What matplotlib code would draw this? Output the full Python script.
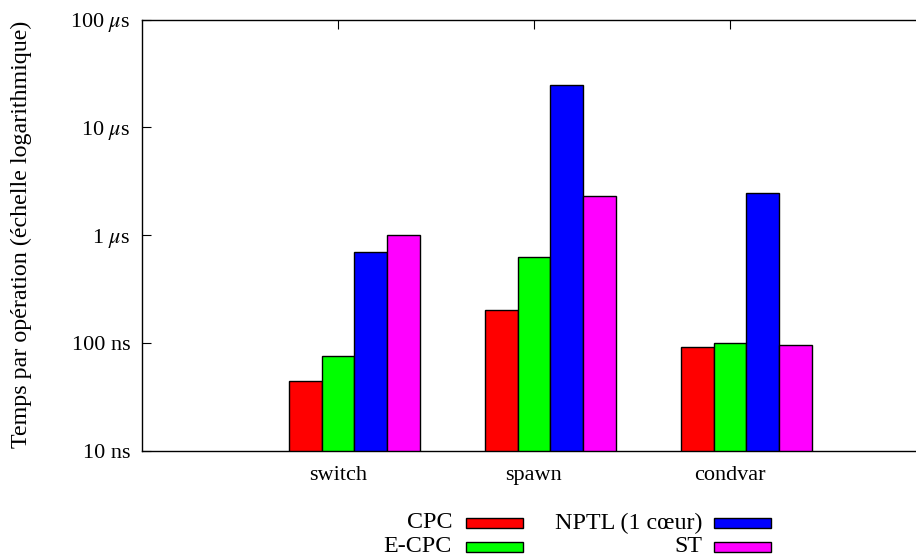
import matplotlib
matplotlib.use("Agg")
from matplotlib import pyplot as plt
from matplotlib.patches import Rectangle
import numpy as np

# donnees (secondes par operation)
categories = ["switch", "spawn", "condvar"]
series = ["CPC", "E-CPC", "NPTL (1 cœur)", "ST"]
colors = ["#ff0000", "#00ff00", "#0000ff", "#ff00ff"]
cpc = [44e-9, 200e-9, 92e-9]
ecpc = [76e-9, 620e-9, 100e-9]
nptl = [690e-9, 24.5e-6, 2.43e-6]
st = [1.0e-6, 2.28e-6, 95e-9]
values = [cpc, ecpc, nptl, st]

ytick_vals = [1e-8, 1e-7, 1e-6, 1e-5, 1e-4]
ytick_labels = ["10 ns", "100 ns", r"1 $\mu$s", r"10 $\mu$s", r"100 $\mu$s"]

plt.rcParams["font.family"] = ["Liberation Serif", "DejaVu Serif"]
plt.rcParams["mathtext.fontset"] = "stix"

fig = plt.figure(figsize=(9.16, 5.59), dpi=100)
W, H = 916.0, 559.0
# l'axe depasse a droite comme dans l'original (xrange -1:4)
ax = fig.add_axes([142 / W, (H - 450.5) / H, 980 / W, 431 / H])

x = np.arange(len(categories))
w = 1.0 / 6
for i, (name, vals, c) in enumerate(zip(series, values, colors)):
    ax.bar(x + (i - 1) * w, vals, width=w, color=c,
           edgecolor="black", linewidth=1.0, zorder=2)

ax.set_yscale("log")
ax.set_ylim(1e-8, 1e-4)
ax.set_xlim(-1, 4)
ax.set_yticks(ytick_vals)
ax.set_yticklabels(ytick_labels)
ax.minorticks_off()
ax.set_xticks(x)
ax.set_xticklabels(categories)
ax.tick_params(direction="in", top=True, right=True, length=6.5, width=0.8,
               labelsize=16)
ax.tick_params(axis="y", pad=8.5)
ax.tick_params(axis="x", pad=11)
for s in ax.spines.values():
    s.set_linewidth(1.0)

fig.text(21 / W, 1 - 234 / H, "Temps par opération (échelle logarithmique)",
         rotation=90, ha="center", va="center", fontsize=17.3)

# legende a la gnuplot : texte a droite, echantillon de couleur
col_text_x = [452, 702]
col_box_x = [466, 714]
row_y = [523, 547]
box_w, box_h = 57, 10
for i, (name, c) in enumerate(zip(series, colors)):
    col, row = divmod(i, 2)
    fig.text(col_text_x[col] / W, 1 - row_y[row] / H, name, ha="right",
             va="center", fontsize=17.3)
    fig.patches.append(Rectangle((col_box_x[col] / W, 1 - (row_y[row] + box_h / 2) / H),
                                 box_w / W, box_h / H, transform=fig.transFigure,
                                 facecolor=c, edgecolor="black", linewidth=1.0))

fig.savefig("out.png", dpi=100)
